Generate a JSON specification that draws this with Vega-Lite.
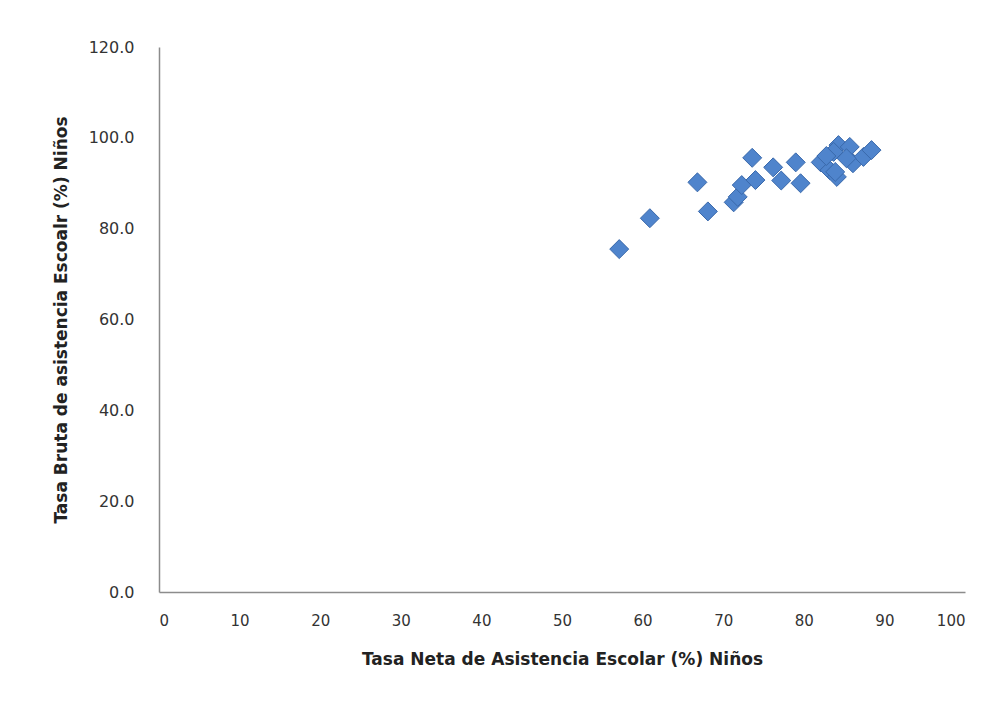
{
  "$schema": "https://vega.github.io/schema/vega-lite/v6.json",
  "autosize": "none",
  "width": 806,
  "height": 545,
  "padding": {"left": 159, "top": 47, "right": 36, "bottom": 109},
  "background": "white",
  "config": {"view": {"stroke": null}},
  "data": {"values": [
    {"neta": 57.1, "bruta": 75.5},
    {"neta": 60.9, "bruta": 82.3},
    {"neta": 66.8, "bruta": 90.2},
    {"neta": 68.1, "bruta": 83.8},
    {"neta": 71.3, "bruta": 85.8},
    {"neta": 71.8, "bruta": 87.0},
    {"neta": 72.3, "bruta": 89.6},
    {"neta": 74.0, "bruta": 90.7},
    {"neta": 73.6, "bruta": 95.6},
    {"neta": 76.2, "bruta": 93.5},
    {"neta": 77.2, "bruta": 90.6},
    {"neta": 79.0, "bruta": 94.6},
    {"neta": 79.6, "bruta": 90.0},
    {"neta": 82.1, "bruta": 94.6},
    {"neta": 84.3, "bruta": 98.4},
    {"neta": 85.7, "bruta": 98.0},
    {"neta": 83.7, "bruta": 96.9},
    {"neta": 83.2, "bruta": 92.9},
    {"neta": 84.1, "bruta": 91.4},
    {"neta": 83.9, "bruta": 92.5},
    {"neta": 86.1, "bruta": 94.4},
    {"neta": 87.4, "bruta": 95.8},
    {"neta": 88.4, "bruta": 97.3},
    {"neta": 82.8, "bruta": 96.0},
    {"neta": 85.3, "bruta": 95.5}
  ]},
  "mark": {"type": "point", "shape": "diamond", "filled": true, "size": 360, "fill": "#4f84cc", "stroke": "#3a69ab", "strokeWidth": 1, "opacity": 1},
  "encoding": {
    "x": {
      "field": "neta", "type": "quantitative",
      "scale": {"domain": [0, 100], "nice": false, "zero": true},
      "axis": {
        "values": [0, 10, 20, 30, 40, 50, 60, 70, 80, 90, 100],
        "grid": false, "ticks": false,
        "domainColor": "#8c8c8c", "domainWidth": 1.5,
        "labelFont": "DejaVu Sans", "labelFontSize": 15, "labelColor": "#333333",
        "labelPadding": 21,
        "title": "Tasa Neta de Asistencia Escolar (%) Niños",
        "titleFont": "DejaVu Sans", "titleFontSize": 17, "titleFontWeight": "bold", "titleColor": "#222222",
        "titlePadding": 23
      }
    },
    "y": {
      "field": "bruta", "type": "quantitative",
      "scale": {"domain": [0, 120], "nice": false},
      "axis": {
        "values": [0, 20, 40, 60, 80, 100, 120],
        "format": ".1f",
        "grid": false, "ticks": false,
        "domainColor": "#8c8c8c", "domainWidth": 1.5,
        "labelFont": "DejaVu Sans", "labelFontSize": 16, "labelColor": "#333333",
        "labelPadding": 25,
        "title": "Tasa Bruta de asistencia Escoalr (%) Niños",
        "titleFont": "DejaVu Sans", "titleFontSize": 17, "titleFontWeight": "bold", "titleColor": "#222222",
        "titlePadding": 18
      }
    }
  }
}
